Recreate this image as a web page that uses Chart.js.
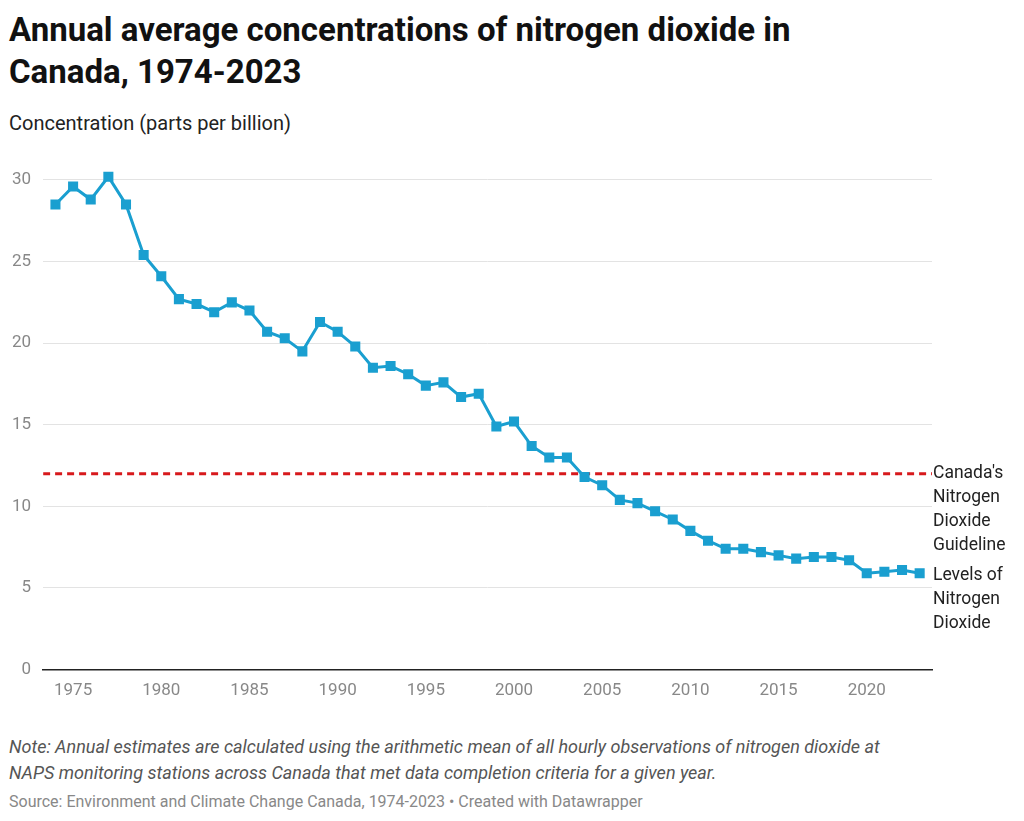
<!DOCTYPE html>
<html>
<head>
<meta charset="utf-8">
<script src="https://cdn.jsdelivr.net/npm/chart.js@4/dist/chart.umd.min.js"></script>
<style>
  body { margin: 0; width: 1024px; height: 821px; background: #fff; font-family: Roboto, sans-serif; position: relative; }
  h1 { position: absolute; left: 9px; top: 9px; margin: 0; font-size: 33px; line-height: 42px; font-weight: 700; color: #111; width: 900px; }
  .sub { position: absolute; left: 9px; top: 111px; font-size: 20px; color: #222; }
  .wrap { position: absolute; left: 0; top: 148px; width: 1024px; height: 556px; }
  .note { position: absolute; left: 9px; top: 734px; font-size: 18px; line-height: 26px; color: #555; font-style: italic; }
  .src { position: absolute; left: 9px; top: 792px; font-size: 16px; color: #888; }
</style>
</head>
<body>
<h1>Annual average concentrations of nitrogen dioxide in Canada, 1974-2023</h1>
<div class="sub">Concentration (parts per billion)</div>
<div class="wrap"><canvas id="c"></canvas></div>
<div class="note">Note: Annual estimates are calculated using the arithmetic mean of all hourly observations of nitrogen dioxide at<br>NAPS monitoring stations across Canada that met data completion criteria for a given year.</div>
<div class="src">Source: Environment and Climate Change Canada, 1974-2023 • Created with Datawrapper</div>
<script>
const years = [];
for (let y = 1974; y <= 2023; y++) years.push(y);
const no2 = [28.5, 29.6, 28.8, 30.2, 28.5, 25.4, 24.1, 22.7, 22.4, 21.9,
             22.5, 22.0, 20.7, 20.3, 19.5, 21.3, 20.7, 19.8, 18.5, 18.6,
             18.1, 17.4, 17.6, 16.7, 16.9, 14.9, 15.2, 13.7, 13.0, 13.0,
             11.8, 11.3, 10.4, 10.2, 9.7, 9.2, 8.5, 7.9, 7.4, 7.4,
             7.2, 7.0, 6.8, 6.9, 6.9, 6.7, 5.9, 6.0, 6.1, 5.9];
const guideline = 12;
const X_MIN = 1973.3, X_MAX = 2023.7;
const yTicks = [0, 5, 10, 15, 20, 25, 30];

const rightLabels = {
    id: 'rightLabels',
    afterDraw(chart) {
        const ctx = chart.ctx;
        const x = chart.scales.x.right + 1;
        const ys = chart.scales.y;
        ctx.save();
        ctx.font = '17.5px Roboto';
        ctx.fillStyle = '#222';
        ctx.textBaseline = 'middle';
        const g = ys.getPixelForValue(guideline);
        ['Canada\'s', 'Nitrogen', 'Dioxide', 'Guideline'].forEach((t, i) => ctx.fillText(t, x, g + i * 24));
        const l = ys.getPixelForValue(no2[no2.length - 1]) + 2;
        ['Levels of', 'Nitrogen', 'Dioxide'].forEach((t, i) => ctx.fillText(t, x, l + i * 24));
        ctx.restore();
    }
};

new Chart(document.getElementById('c'), {
    type: 'line',
    data: {
        datasets: [
            {
                data: years.map((y, i) => ({ x: y, y: no2[i] })),
                borderColor: '#1a9fd0',
                backgroundColor: '#1a9fd0',
                borderWidth: 3,
                pointStyle: 'rect',
                pointRadius: 5,
                tension: 0
            },
            {
                data: [{ x: X_MIN, y: guideline }, { x: X_MAX, y: guideline }],
                borderColor: '#d7191c',
                borderWidth: 3,
                borderDash: [7, 5],
                pointRadius: 0
            }
        ]
    },
    options: {
        responsive: true,
        maintainAspectRatio: false,
        animation: false,
        layout: { padding: { left: 0, right: 92, top: 0, bottom: 0 } },
        plugins: { legend: { display: false }, tooltip: { enabled: false } },
        scales: {
            x: {
                type: 'linear', min: X_MIN, max: X_MAX,
                afterBuildTicks: s => { s.ticks = [1975, 1980, 1985, 1990, 1995, 2000, 2005, 2010, 2015, 2020].map(v => ({ value: v })); },
                ticks: { color: '#888', font: { family: 'Roboto', size: 17 }, callback: v => String(v), maxRotation: 0 },
                grid: { display: false },
                border: { color: '#222', width: 1.5 }
            },
            y: {
                min: 0, max: 30.6,
                afterBuildTicks: s => { s.ticks = yTicks.map(v => ({ value: v })); },
                ticks: { color: '#888', font: { family: 'Roboto', size: 17 }, padding: 12 },
                grid: { color: '#e3e3e3', drawTicks: false },
                border: { display: false }
            }
        }
    },
    plugins: [rightLabels]
});
</script>
</body>
</html>
